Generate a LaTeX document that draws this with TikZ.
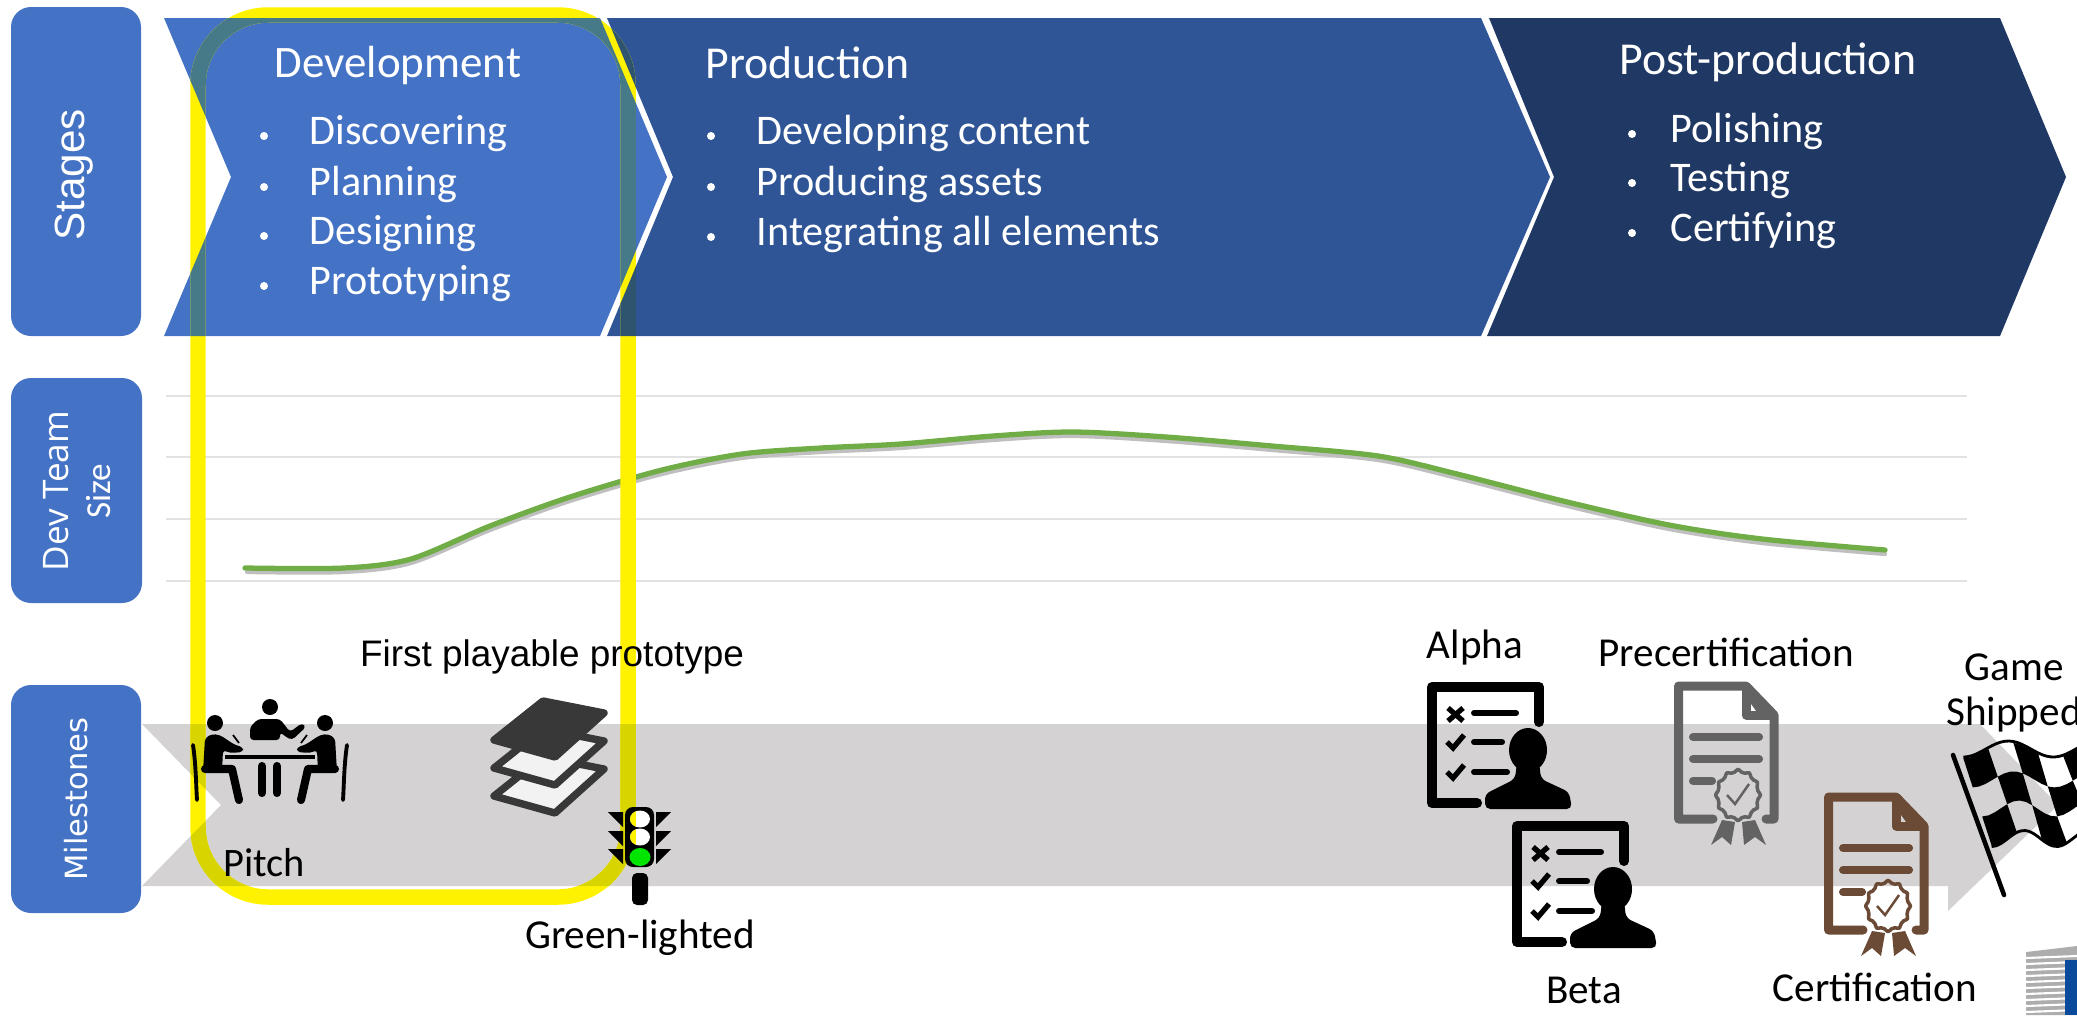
\documentclass[tikz,border=0pt]{standalone}
\usepackage{fontspec}
\setmainfont{Carlito}
\newfontfamily\arialfont{Liberation Sans}
\newfontfamily\opensfont{Open Sans}
\newfontfamily\dejavufont{DejaVu Sans}
\definecolor{devblue}{HTML}{4472C4}
\definecolor{prodblue}{HTML}{2F5597}
\definecolor{postblue}{HTML}{203864}
\definecolor{arrowgray}{HTML}{D4D2D3}
\definecolor{gridgray}{HTML}{E2E2E2}
\definecolor{curvegreen}{HTML}{70AD47}
\definecolor{certgray}{HTML}{636363}
\definecolor{certbrown}{HTML}{6B4A36}
\definecolor{eublue}{HTML}{0B4A9A}
% outlines used more than once
\def\chevdev{(164,18) -- (600,18) -- (667,177) -- (600,336) -- (164,336) -- (231,177) -- cycle}
\def\chevprod{(607,18) -- (1481,18) -- (1550,177) -- (1481,336) -- (607,336) -- (673,177) -- cycle}
\def\grayarrow{(142,724) -- (1980,724) -- (2058,805) -- (1948,911) -- (1948,886) -- (142,886) -- (221,805) -- cycle}
\def\devframe{(400,15) [rounded corners=0.7cm] -- (628,15) -- (628,897) -- (198,897) -- (198,15) [sharp corners] -- cycle}
\tikzset{
  pics/checklist/.style={code={
    \draw [black,line width=2.85pt,line cap=round,line join=round] (50,121) -- (5,121) -- (5,5) -- (112,5) -- (112,40);
    \draw [black,line width=1.7pt,line cap=round] (47,31) -- (89,31);
    \draw [black,line width=1.7pt,line cap=round] (47,60) -- (75,60);
    \draw [black,line width=1.7pt,line cap=round] (47,90) -- (80,90);
    \draw [black,line width=1.5pt] (21,26) -- (36,39);
    \draw [black,line width=1.5pt] (36,26) -- (21,39);
    \draw [black,line width=1.5pt] (20,60) -- (26,66) -- (37,53);
    \draw [black,line width=1.5pt] (20,90) -- (26,96) -- (37,83);
    \fill [black] (101,68) ellipse (19 and 22);
    \fill [black,rounded corners=1.5pt] (58,127) -- (58,112) -- (88,97) -- (90,80) -- (112,80) -- (114,97) -- (142,110) -- (145,127) -- cycle;
  }},
  pics/certdoc/.style={code={
    \draw [#1,line width=2.56pt,line join=round,line cap=round] (39,136) -- (4.5,136) -- (4.5,3) -- (72,3) -- (100,32) -- (100,136) -- (92,136);
    \draw [#1,line width=2.56pt,line join=round] (72,3) -- (72,32) -- (100,32);
    \fill [#1] (72,3) -- (100,32) -- (85,32) -- (72,14) -- cycle;
    \draw [#1,line width=2.3pt,line cap=round] (19,54) -- (85,54);
    \draw [#1,line width=2.3pt,line cap=round] (19,76) -- (85,76);
    \draw [#1,line width=2.3pt,line cap=round] (19,98) -- (38,98);
    \draw [#1,line width=1pt,line join=round] plot [domain=0:350,samples=36,smooth cycle] ({64+21*cos(\x)*(1+.07*cos(12*\x))},{112+24*sin(\x)*(1+.07*cos(12*\x))});
    \draw [#1,line width=0.7pt] (53,112) -- (61,121) -- (75,101);
    \fill [#1] (48,137) -- (61,139) -- (57,162) -- (48,154) -- (37,162) -- cycle;
    \fill [#1] (68,139) -- (81,137) -- (92,162) -- (81,154) -- (70,162) -- cycle;
  }},
  pics/seatedperson/.style={code={
    \fill [black] (-55,723) circle (8);
    \fill [black,rounded corners=1pt] (-65,738) -- (-58,734) -- (-50,735) -- (-35,745) -- (-27,747) -- (-27,752) -- (-40,753) -- (-47,750) -- (-48,772) -- (-67,772) -- cycle;
    \draw [black,line width=2.3pt,line cap=round,line join=round] (-65,769) -- (-38,769) -- (-31,800);
    \draw [black,line width=1.1pt,line cap=round] (-77,745) .. controls (-74,765) and (-74,785) .. (-73,800);
    \draw [black,line width=0.5pt] (-37,735) -- (-31,743);
  }}
}
\tikzset{
  headbox/.style={draw=none,fill=devblue,rounded corners=0.2cm},
  greenline/.style={curvegreen,line width=1.5pt,line cap=round}
}
\begin{document}
\begin{tikzpicture}[x=0.01cm,y=-0.01cm,inner sep=0pt]
\useasboundingbox (0,0) rectangle (2077,1015);
% left hand boxes
\fill [headbox] (11,7) rectangle (141,336);
\fill [headbox] (11,378) rectangle (142,603);
\fill [headbox] (11,685) rectangle (141,913);
% stages
\fill [devblue] \chevdev;
\fill [prodblue] \chevprod;
\fill [postblue] (1489,18) -- (2000,18) -- (2066,177) -- (2000,336) -- (1487,336) -- (1554,177) -- cycle;
% grid and grey arrow
\foreach \ypos in {396,457,519,581} {
  \draw [gridgray,line width=0.6pt] (166,\ypos) -- (1967,\ypos);
}
\fill [arrowgray] \grayarrow;
% team curve, shadow first
\draw [black!25,line width=1.2pt,line cap=round] plot [smooth] coordinates {(247,572) (344,572) (411,563) (490,530) (570,501) (662,474) (742,458) (821,452) (901,448) (993,440) (1073,436) (1166,441) (1272,450) (1378,460) (1457,478) (1563,505) (1669,529) (1762,543) (1885,554)};
\draw [greenline] plot [smooth] coordinates {(245,568) (344,568) (411,559) (490,526) (570,497) (662,470) (742,454) (821,448) (901,444) (993,436) (1073,432) (1166,437) (1272,446) (1378,456) (1457,474) (1563,501) (1669,525) (1762,539) (1885,550)};
% yellow frame, then its tint on what lies under it
\draw [yellow,line width=4.4pt] \devframe;
\begin{scope}
\clip \chevdev;
\draw [color={rgb,255:red,71;green,122;blue,136},line width=4.4pt] \devframe;
\end{scope}
\begin{scope}
\clip \chevprod;
\draw [color={rgb,255:red,46;green,84;blue,112},line width=4.4pt] \devframe;
\end{scope}
\begin{scope}
\clip \grayarrow;
\draw [color={rgb,255:red,216;green,212;blue,0},line width=4.4pt] \devframe;
\end{scope}
% side labels
\draw (74,175) node (stageslabel) [rotate=90,white] {\arialfont\fontsize{12}{14}\selectfont Stages};
\draw (77,491) node (teamlabel) [rotate=90,white,align=center] {\opensfont\fontsize{10}{14.5}\selectfont Dev Team\\Size};
\draw (76,799) node (milestoneslabel) [rotate=90,white] {\dejavufont\fontsize{8.7}{10}\selectfont Milestones};
% stage texts
\draw (274,69) node (devtitle) [anchor=mid west,white] {\fontsize{12.8}{15}\selectfont Development};
\draw (705,70) node (prodtitle) [anchor=mid west,white] {\fontsize{13}{15}\selectfont Production};
\draw (1619,66) node (posttitle) [anchor=mid west,white] {\fontsize{13}{15}\selectfont Post-production};
\foreach \ypos/\itemtext in {136/Discovering,187/Planning,236/Designing,286/Prototyping} {
  \fill [white] (264,\ypos) circle (4);
  \draw (309,\ypos) node (dev\ypos) [anchor=mid west,white] {\fontsize{12}{14}\selectfont \itemtext};
}
\foreach \ypos/\itemtext in {136/Developing content,187/Producing assets,237/Integrating all elements} {
  \fill [white] (711,\ypos) circle (4);
  \draw (756,\ypos) node (prod\ypos) [anchor=mid west,white] {\fontsize{12}{14}\selectfont \itemtext};
}
\foreach \ypos/\itemtext in {134/Polishing,183/Testing,233/Certifying} {
  \fill [white] (1632,\ypos) circle (4);
  \draw (1670,\ypos) node (post\ypos) [anchor=mid west,white] {\fontsize{12}{14}\selectfont \itemtext};
}
% pitch icon
\fill [black] (270,707) circle (8);
\fill [black,rounded corners=1pt] (250,740) -- (250,727) -- (258,719) -- (280,719) -- (290,732) -- (302,723) -- (306,727) -- (292,740) -- (286,737) -- (280,732) -- (280,740) -- cycle;
\fill [black] (225,755) rectangle (315,759);
\draw [black,line width=2.3pt,line cap=round] (262,766) -- (262,793);
\draw [black,line width=2.3pt,line cap=round] (277,766) -- (277,793);
\pic at (270,0) {seatedperson};
\pic [xscale=-1] at (270,0) {seatedperson};
% layers icon
\tikzstyle{layer}=[draw={rgb,255:red,56;green,56;blue,56},line width=2.1pt,line join=round]
\draw [layer,fill=white!70!arrowgray] (543,757) -- (604,769) -- (555,813) -- (494,796) -- cycle;
\draw [layer,fill=white!70!arrowgray] (543,729) -- (604,741) -- (555,785) -- (494,768) -- cycle;
\draw [layer,fill={rgb,255:red,56;green,56;blue,56}] (543,701) -- (604,713) -- (555,757) -- (494,740) -- cycle;
% traffic light
\fill [black,rounded corners=0.08cm] (625,807) rectangle (654,867);
\fill [black,rounded corners=0.05cm] (632,873) rectangle (648,905);
\foreach \ypos in {812,831,849} {
  \fill [black] (608,\ypos) -- (623,\ypos) -- (623,\ypos+15) -- cycle;
  \fill [black] (671,\ypos) -- (656,\ypos) -- (656,\ypos+15) -- cycle;
}
\foreach \ypos in {819,837} {
  \begin{scope}
  \clip (640,\ypos) ellipse (10 and 8.5);
  \fill [white] (628,\ypos-10) rectangle (652,\ypos+10);
  \fill [yellow] (628,\ypos-10) rectangle (636,\ypos+10);
  \end{scope}
}
\fill [green!90!black] (640,857) ellipse (10.5 and 9);
% document icons
\pic at (1427,682) {checklist};
\pic at (1512,821) {checklist};
\pic at (1674,683) {certdoc=certgray};
\pic at (1824,794) {certdoc=certbrown};
% chequered flag
\draw [black,line width=1.3pt,line cap=round] (1953,755) -- (2004,895);
\foreach \colnum in {0,...,4} {
  \foreach \rownum in {0,1,2} {
    \pgfmathtruncatemacro{\cellodd}{mod(\colnum+\rownum,2)}
    \ifnum\cellodd=0
      \fill [black] plot [domain=0:1,samples=5] ({1963.3+28.3*\rownum/3+25*(\colnum+\x)},{758.3+87.3*\rownum/3-8*(1-cos(360*(\colnum+\x)/(3.6-\rownum/3)))})
        -- plot [domain=1:0,samples=5] ({1963.3+28.3*(\rownum+1)/3+25*(\colnum+\x)},{758.3+87.3*(\rownum+1)/3-8*(1-cos(360*(\colnum+\x)/(3.6-(\rownum+1)/3)))}) -- cycle;
    \fi
  }
}
\draw [black,line width=0.8pt] plot [domain=0:5,samples=31,smooth] ({1963.3+25*\x},{757-8*(1-cos(360*\x/3.6))});
\draw [black,line width=0.8pt] plot [domain=0:5,samples=31,smooth] ({1991.6+25*\x},{846.5-8*(1-cos(360*\x/2.6))});
% corner logo
\fill [black!32] (2026,952) -- (2077,946) -- (2077,1015) -- (2026,1015) -- cycle;
\foreach \ypos in {958,964,...,1012} {
  \draw [white,line width=0.6pt] (2026,\ypos) -- (2077,\ypos-2);
}
\fill [eublue] (2065,960) rectangle (2077,1015);
% milestone texts
\draw (552,657) node (firstplayable) [black] {\arialfont\fontsize{10.5}{12}\selectfont First playable prototype};
\draw (264,863) node (pitchlabel) [black] {\fontsize{11.5}{14}\selectfont Pitch};
\draw (640,938) node (greenlabel) [black] {\fontsize{11.7}{14}\selectfont Green-lighted};
\draw (1475,648) node (alphalabel) [black] {\fontsize{11.7}{14}\selectfont Alpha};
\draw (1726,652) node (precertlabel) [black] {\fontsize{11.7}{14}\selectfont Precertification};
\draw (1584,990) node (betalabel) [black] {\fontsize{11.7}{14}\selectfont Beta};
\draw (1875,987) node (certlabel) [black] {\fontsize{11.7}{14}\selectfont Certification};
\draw (2014,667) node (gamelabel) [black] {\fontsize{11.7}{14}\selectfont Game};
\draw (2014,715) node (shippedlabel) [black] {\fontsize{11.7}{14}\selectfont Shipped};
\end{tikzpicture}
\end{document}
